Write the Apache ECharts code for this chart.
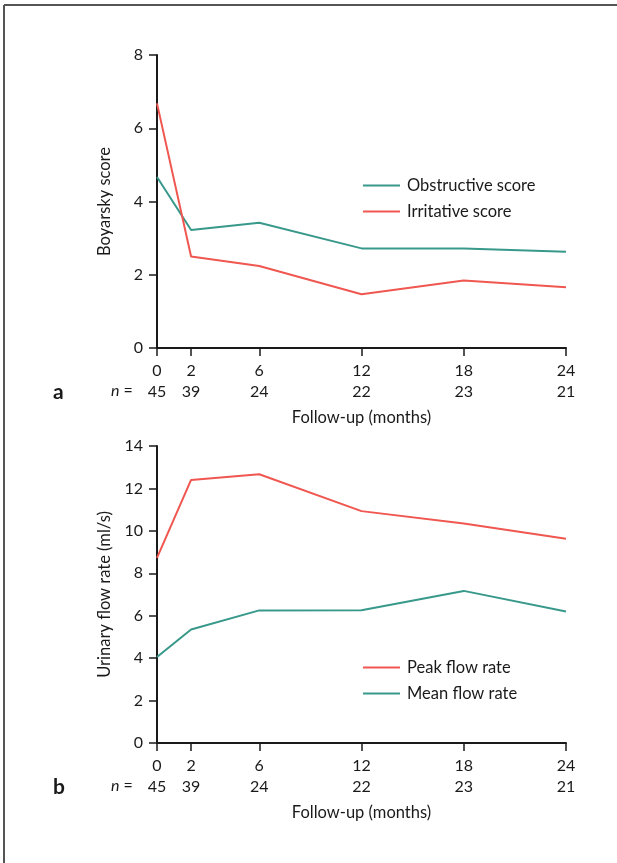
<!DOCTYPE html>
<html>
<head>
<meta charset="utf-8">
<script src="https://cdn.jsdelivr.net/npm/echarts@6/dist/echarts.min.js"></script>
<style>
  html, body { margin: 0; padding: 0; background: #fff; }
  #chart { width: 617px; height: 863px; }
</style>
</head>
<body>
<div id="chart"></div>
<script>
// Follow-up months and number of patients at each visit
const months = [0, 2, 6, 12, 18, 24];
const patients = [45, 39, 24, 22, 23, 21];

// Panel a: Boyarsky symptom scores
const obstructive = [4.67, 3.22, 3.42, 2.72, 2.72, 2.63];
const irritative = [6.68, 2.50, 2.24, 1.47, 1.84, 1.66];
const scoreTicks = [0, 2, 4, 6, 8];

// Panel b: urinary flow rates (ml/s)
const peakFlow = [8.73, 12.40, 12.67, 10.93, 10.35, 9.63];
const meanFlow = [4.05, 5.35, 6.25, 6.26, 7.17, 6.20];
const flowTicks = [0, 2, 4, 6, 8, 10, 12, 14];

const TEAL = '#38998b';
const RED = '#ef5750';
const FONT = 'Lato';
const INK = '#1a1a1a';

const pairs = arr => months.map((m, i) => [m, arr[i]]);

function xAxis(gridIndex) {
  return {
    type: 'value', gridIndex, min: 0, max: 24,
    name: 'Follow-up (months)', nameLocation: 'middle', nameGap: 61,
    nameTextStyle: { fontFamily: FONT, fontSize: 16.5, color: INK },
    axisLine: { show: true, onZero: false, lineStyle: { color: INK, width: 2 } },
    axisTick: { show: true, length: 8, customValues: months, lineStyle: { color: INK, width: 1.5 } },
    axisLabel: {
      customValues: months, margin: 12, fontFamily: FONT, fontSize: 16, color: INK, lineHeight: 21,
      formatter: v => v + '\n' + patients[months.indexOf(v)]
    },
    splitLine: { show: false }
  };
}

function yAxis(gridIndex, max, name, ticks, gap) {
  return {
    type: 'value', gridIndex, min: 0, max, interval: 2,
    name, nameLocation: 'middle', nameGap: gap, nameRotate: 90,
    nameTextStyle: { fontFamily: FONT, fontSize: 16.5, color: INK },
    axisLine: { show: true, lineStyle: { color: INK, width: 2 } },
    axisTick: { show: true, length: 8, customValues: ticks, lineStyle: { color: INK, width: 1.5 } },
    axisLabel: { customValues: ticks, margin: 14, fontFamily: FONT, fontSize: 16, color: INK },
    splitLine: { show: false }
  };
}

function line(name, data, color, idx) {
  return {
    type: 'line', name, data: pairs(data), xAxisIndex: idx, yAxisIndex: idx,
    showSymbol: false, symbol: 'none', lineStyle: { color, width: 2 }, itemStyle: { color },
    silent: true
  };
}

function legend(names, top) {
  return {
    data: names, orient: 'vertical', left: 358, top, itemWidth: 37, itemHeight: 2, itemGap: 9,
    icon: 'rect', textStyle: { fontFamily: FONT, fontSize: 16.5, color: INK, padding: [0, 0, 0, 2] },
    selectedMode: false
  };
}

function nLabel(y) {
  return {
    type: 'text', left: 111, top: y,
    style: {
      text: '{i|n} =', fontFamily: FONT, fontSize: 16, fill: INK,
      rich: { i: { fontStyle: 'italic', fontFamily: FONT, fontSize: 16, fill: INK } }
    }
  };
}

function panelLetter(text, y) {
  return {
    type: 'text', left: 53, top: y,
    style: { text, fontFamily: FONT, fontSize: 21, fontWeight: 'bold', fill: INK }
  };
}

const chart = echarts.init(document.getElementById('chart'), null, { renderer: 'canvas' });
chart.setOption({
  backgroundColor: '#ffffff',
  animation: false,
  grid: [
    { left: 157, top: 55, width: 409, height: 293 },
    { left: 157, top: 446, width: 409, height: 297 }
  ],
  xAxis: [xAxis(0), xAxis(1)],
  yAxis: [
    yAxis(0, 8, 'Boyarsky score', scoreTicks, 44),
    yAxis(1, 14, 'Urinary flow rate (ml/s)', flowTicks, 42)
  ],
  legend: [legend(['Obstructive score', 'Irritative score'], 172), legend(['Peak flow rate', 'Mean flow rate'], 654)],
  series: [
    line('Obstructive score', obstructive, TEAL, 0),
    line('Irritative score', irritative, RED, 0),
    line('Peak flow rate', peakFlow, RED, 1),
    line('Mean flow rate', meanFlow, TEAL, 1)
  ],
  graphic: [
    { type: 'line', shape: { x1: 4, y1: 5, x2: 617, y2: 5 }, style: { stroke: '#555', lineWidth: 2 } },
    { type: 'line', shape: { x1: 4, y1: 5, x2: 4, y2: 863 }, style: { stroke: '#555', lineWidth: 2 } },
    nLabel(383), nLabel(778),
    panelLetter('a', 382), panelLetter('b', 777)
  ]
});
</script>
</body>
</html>
